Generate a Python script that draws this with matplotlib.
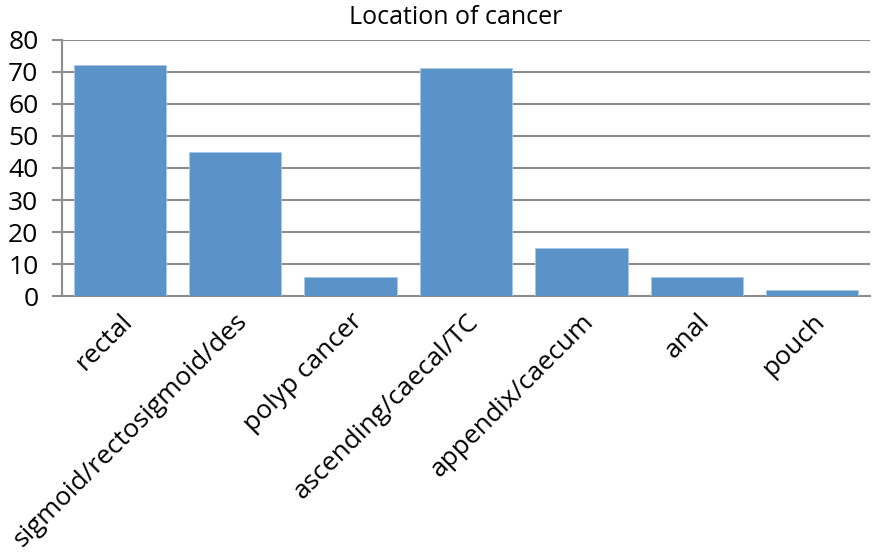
import matplotlib
matplotlib.use("Agg")
import matplotlib.pyplot as plt
import numpy as np

# Cancer location counts
locations = ["rectal", "sigmoid/rectosigmoid/des", "polyp cancer",
             "ascending/caecal/TC", "appendix/caecum", "anal", "pouch"]
counts = [72, 45, 6, 71, 15, 6, 2]

plt.rcParams["font.family"] = ["Open Sans", "DejaVu Sans"]

fig = plt.figure(figsize=(8.72, 5.6), dpi=100)
ax = fig.add_axes([62 / 872, 1 - 296.3 / 560, 808 / 872, 256.8 / 560])

x = np.arange(len(locations))
ax.bar(x, counts, width=0.8, color="#5a93c7", edgecolor="#a9c6e3", linewidth=0.6, zorder=3)

ax.set_xlim(-0.5, len(locations) - 0.5)
ax.set_ylim(0, 80)
ax.set_yticks(range(0, 81, 10))
ax.yaxis.grid(True, color="#8c8c8c", linewidth=1.5, zorder=0)
ax.set_axisbelow(True)

for side in ["top", "right"]:
    ax.spines[side].set_visible(False)
ax.spines["left"].set_color("#8c8c8c")
ax.spines["left"].set_linewidth(1.5)
ax.spines["bottom"].set_color("#8c8c8c")
ax.spines["bottom"].set_linewidth(1.5)

ax.tick_params(axis="y", length=7, width=1.5, color="#8c8c8c", labelsize=19, pad=10)
ax.tick_params(axis="x", length=0, labelsize=19, pad=9)
ax.set_xticks(x)
ax.set_xticklabels(locations, rotation=45, ha="right", rotation_mode="anchor")

# title sits slightly left of the axes centre
fig.text(456 / 872, 1 - 18 / 560, "Location of cancer", fontsize=18, ha="center", va="center")

fig.savefig("out.png", dpi=100)
